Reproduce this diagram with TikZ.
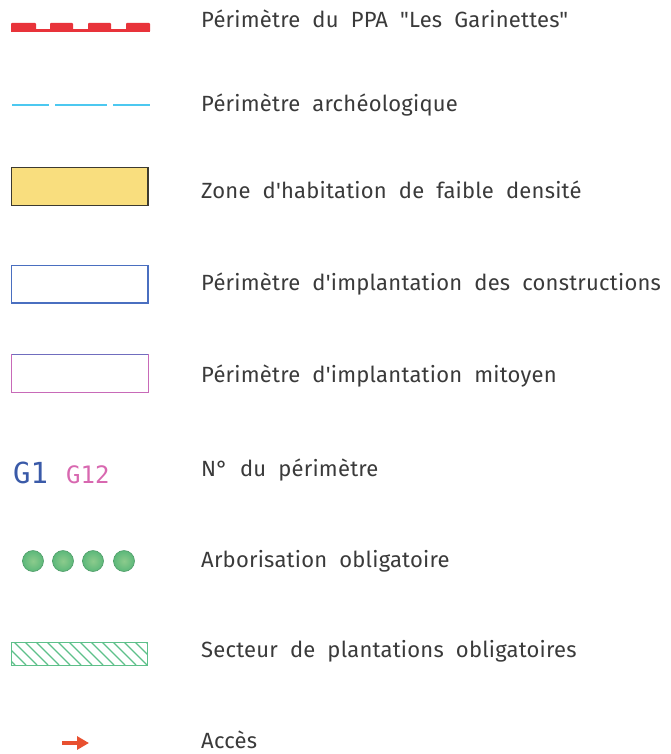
\documentclass[tikz,border=0pt]{standalone}
\usepackage{fontspec}
\setmainfont{Fira Sans}[WordSpace=2.0, LetterSpace=1.0, Ligatures=TeXOff]
\newfontfamily\codefont{DejaVu Sans Mono}
\usetikzlibrary{arrows.meta}
\definecolor{txt}{HTML}{3A3A3A}
\definecolor{ppared}{HTML}{E8333A}
\definecolor{archcyan}{HTML}{4CC8F0}
\definecolor{zoneyel}{HTML}{F9DE7E}
\definecolor{zonebord}{HTML}{3C3A30}
\definecolor{perblue}{HTML}{4A6FC0}
\definecolor{perpink}{HTML}{C86AB8}
\definecolor{gblue}{HTML}{3A5AA8}
\definecolor{gpink}{HTML}{D868B0}
\definecolor{dotgreen}{HTML}{5CB87A}
\definecolor{dotlight}{HTML}{8CCB8C}
\definecolor{hatchgreen}{HTML}{5EC08A}
\definecolor{accred}{HTML}{E85030}
\tikzset{
  lbl/.style={anchor=base west, inner sep=0pt, text=txt, font=\fontsize{22}{26}\selectfont},
  dotsym/.style={circle, minimum size=21pt, inner sep=0pt, draw=dotgreen!85!black, line width=0.6pt, inner color=dotlight, outer color=dotgreen},
}
\begin{document}
\begin{tikzpicture}[x=1pt,y=-1pt]
\useasboundingbox (0,0) rectangle (671,754);
% 1 red PPA perimeter
\draw[ppared, line width=2.2pt] (11,30.5) -- (150,30.5);
\foreach \a/\b in {11/36,50/73,88/111,126/150}
  \fill[ppared, rounded corners=1pt] (\a,23) rectangle (\b,32);
\node[lbl] (t1) at (201,28) {Périmètre du PPA "Les Garinettes"};
% 2 cyan archaeological
\foreach \a/\b in {12/49,55/107,113/150}
  \draw[archcyan, line width=2.4pt] (\a,105) -- (\b,105);
\node[lbl] (t2) at (201,112) {Périmètre archéologique};
% 3 yellow zone
\draw[zonebord, fill=zoneyel, line width=1.6pt] (11.5,167.5) rectangle (148,205.5);
\node[lbl] (t3) at (201,198) {Zone d'habitation de faible densité};
% 4 blue perimeter
\draw[perblue, line width=1.1pt] (11.5,265.5) rectangle (148,303);
\node[lbl] (t4) at (201,290) {Périmètre d'implantation des constructions};
% 5 pink perimeter
\draw[perpink, line width=1pt] (11.5,354.5) rectangle (148,392.5);
\draw[perblue!70!perpink, line width=1.1pt] (11.5,354.5) -- (148,354.5);
\node[lbl] (t5) at (201,382) {Périmètre d'implantation mitoyen};
% 6 numbers
\node[anchor=base west, inner sep=0pt, text=gblue, font=\codefont\fontsize{29}{30}\selectfont] (g1) at (13,483) {G1};
\node[anchor=base west, inner sep=0pt, text=gpink, font=\codefont\fontsize{24}{26}\selectfont] (g12) at (66,483) {G12};
\node[lbl] (t6) at (201,476) {N° du périmètre};
% 7 trees
\foreach \x [count=\i] in {33,63,93,124}
  \node[dotsym] (d\i) at (\x,561) {};
\node[lbl] (t7) at (201,567) {Arborisation obligatoire};
% 8 hatched
\begin{scope}
  \clip (11,642) rectangle (147,665);
  \foreach \i in {-30,-19,...,160}
    \draw[hatchgreen, line width=1.4pt] (\i,642) -- (\i+23,665);
\end{scope}
\draw[hatchgreen, line width=0.8pt] (11,642) rectangle (147,665);
\node[lbl] (t8) at (201,657) {Secteur de plantations obligatoires};
% 9 access arrow
\coordinate (a0) at (62,743);
\coordinate (a1) at (89,743);
\draw[accred, line width=4pt, -{Triangle[length=12pt,width=13pt]}] (a0) -- (a1);
\node[lbl] (t9) at (201,748) {Accès};
\end{tikzpicture}
\end{document}
